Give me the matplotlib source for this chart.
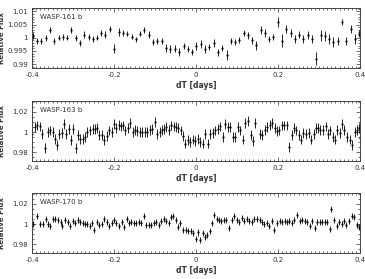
import matplotlib
matplotlib.use("Agg")
import matplotlib.pyplot as plt
from matplotlib.ticker import MultipleLocator

# ─────────────────────────────────────────────
# DATA
# ─────────────────────────────────────────────
t161 = [-0.398, -0.388, -0.378, -0.366, -0.356, -0.346, -0.335, -0.324, -0.314, -0.304,
        -0.293, -0.283, -0.272, -0.262, -0.252, -0.241, -0.231, -0.221, -0.210, -0.200,
        -0.189, -0.178, -0.168, -0.157, -0.147, -0.137, -0.126, -0.115, -0.105, -0.094,
        -0.084, -0.073, -0.063, -0.052, -0.041, -0.030, -0.020, -0.010, 0.001, 0.011,
        0.022, 0.032, 0.044, 0.054, 0.064, 0.075, 0.085, 0.096, 0.106, 0.116,
        0.127, 0.137, 0.147, 0.158, 0.168, 0.178, 0.189, 0.199, 0.210, 0.220,
        0.231, 0.241, 0.251, 0.262, 0.272, 0.283, 0.293, 0.304, 0.314, 0.324,
        0.335, 0.347, 0.356, 0.366, 0.377, 0.387, 0.398]
f161 = [1.0006, 0.9988, 0.9988, 1.0000, 1.0029, 0.9988, 1.0000, 1.0004, 1.0000, 1.0029,
        1.0000, 0.9980, 1.0012, 1.0004, 0.9994, 1.0000, 1.0019, 1.0012, 1.0034, 0.9959,
        1.0022, 1.0019, 1.0015, 1.0004, 0.9994, 1.0015, 1.0029, 1.0012, 0.9984, 0.9988,
        0.9988, 0.9962, 0.9956, 0.9959, 0.9946, 0.9969, 0.9956, 0.9946, 0.9969, 0.9975,
        0.9956, 0.9966, 0.9981, 0.9944, 0.9962, 0.9934, 0.9988, 0.9984, 0.9991, 1.0019,
        1.0009, 0.9990, 0.9971, 1.0031, 1.0019, 0.9994, 1.0004, 1.0059, 0.9988, 1.0034,
        1.0019, 0.9994, 1.0012, 0.9996, 1.0012, 0.9996, 0.9921, 1.0009, 1.0006, 0.9996,
        0.9984, 0.9988, 1.0059, 0.9988, 1.0034, 0.9996, 1.0016]
e161 = [0.0012, 0.0010, 0.0010, 0.0012, 0.0012, 0.0010, 0.0010, 0.0012, 0.0010, 0.0012,
        0.0012, 0.0010, 0.0012, 0.0012, 0.0012, 0.0010, 0.0012, 0.0012, 0.0012, 0.0018,
        0.0015, 0.0012, 0.0010, 0.0010, 0.0010, 0.0010, 0.0010, 0.0012, 0.0012, 0.0012,
        0.0012, 0.0015, 0.0015, 0.0015, 0.0015, 0.0012, 0.0012, 0.0012, 0.0015, 0.0015,
        0.0015, 0.0012, 0.0015, 0.0015, 0.0012, 0.0018, 0.0012, 0.0012, 0.0012, 0.0012,
        0.0012, 0.0012, 0.0018, 0.0015, 0.0015, 0.0012, 0.0012, 0.0018, 0.0025, 0.0015,
        0.0015, 0.0015, 0.0012, 0.0015, 0.0015, 0.0015, 0.0025, 0.0020, 0.0020, 0.0020,
        0.0020, 0.0015, 0.0012, 0.0015, 0.0015, 0.0018, 0.0015]

t163 = [-0.400, -0.393, -0.387, -0.380, -0.375, -0.369, -0.361, -0.355, -0.350, -0.344,
        -0.340, -0.334, -0.328, -0.321, -0.316, -0.309, -0.304, -0.299, -0.293, -0.287,
        -0.282, -0.276, -0.270, -0.265, -0.258, -0.252, -0.247, -0.242, -0.236, -0.230,
        -0.224, -0.217, -0.211, -0.205, -0.201, -0.195, -0.189, -0.183, -0.178, -0.172,
        -0.166, -0.160, -0.154, -0.149, -0.143, -0.137, -0.131, -0.125, -0.119, -0.113,
        -0.107, -0.101, -0.096, -0.089, -0.084, -0.078, -0.072, -0.066, -0.060, -0.053,
        -0.048, -0.043, -0.037, -0.031, -0.026, -0.020, -0.014, -0.008, -0.002, 0.004,
        0.010, 0.016, 0.022, 0.029, 0.034, 0.041, 0.047, 0.053, 0.059, 0.066,
        0.071, 0.078, 0.084, 0.090, 0.096, 0.102, 0.108, 0.115, 0.120, 0.127,
        0.133, 0.139, 0.145, 0.156, 0.161, 0.168, 0.174, 0.180, 0.186, 0.193,
        0.198, 0.203, 0.209, 0.215, 0.221, 0.227, 0.234, 0.239, 0.244, 0.250,
        0.257, 0.262, 0.269, 0.275, 0.281, 0.287, 0.293, 0.298, 0.303, 0.309,
        0.316, 0.321, 0.328, 0.334, 0.340, 0.345, 0.351, 0.357, 0.362, 0.369,
        0.375, 0.381, 0.387, 0.392, 0.398, 0.400]
f163 = [0.9980, 1.0048, 1.0065, 1.0055, 0.9980, 0.9840, 1.0000, 1.0016, 1.0000, 0.9935,
        0.9870, 0.9980, 0.9990, 1.0080, 0.9980, 1.0030, 0.9920, 1.0030, 0.9840, 0.9968,
        0.9935, 0.9935, 0.9950, 1.0000, 1.0016, 1.0030, 1.0030, 1.0040, 0.9968, 0.9968,
        0.9920, 0.9960, 1.0016, 1.0000, 1.0080, 1.0040, 1.0070, 1.0055, 1.0065, 1.0016,
        1.0040, 1.0087, 1.0000, 1.0023, 1.0010, 1.0000, 1.0000, 1.0000, 1.0000, 1.0023,
        1.0030, 1.0097, 0.9980, 1.0000, 1.0023, 1.0030, 1.0048, 1.0023, 1.0065, 1.0055,
        1.0048, 1.0040, 1.0016, 0.9960, 0.9887, 0.9920, 0.9900, 0.9926, 0.9913, 0.9935,
        0.9900, 0.9887, 0.9980, 0.9887, 0.9980, 0.9990, 1.0016, 1.0030, 1.0055, 0.9950,
        1.0080, 1.0048, 1.0048, 0.9950, 0.9950, 1.0048, 1.0016, 0.9926, 1.0087, 1.0110,
        0.9968, 0.9913, 1.0087, 0.9980, 0.9970, 1.0023, 1.0048, 1.0070, 1.0087, 1.0040,
        1.0010, 1.0016, 1.0065, 1.0065, 1.0065, 0.9855, 0.9968, 1.0040, 1.0016, 0.9968,
        0.9926, 0.9990, 0.9980, 0.9990, 0.9926, 0.9980, 1.0040, 1.0040, 1.0023, 1.0023,
        1.0055, 0.9980, 1.0016, 0.9950, 0.9926, 1.0023, 0.9990, 1.0080, 1.0023, 0.9950,
        0.9926, 0.9870, 1.0000, 1.0023, 1.0040, 0.9942]
e163 = 0.0048

t170 = [-0.398, -0.387, -0.380, -0.373, -0.367, -0.361, -0.355, -0.348, -0.343, -0.336,
        -0.330, -0.326, -0.320, -0.313, -0.308, -0.301, -0.295, -0.289, -0.283, -0.276,
        -0.271, -0.265, -0.258, -0.253, -0.248, -0.242, -0.237, -0.230, -0.224, -0.218,
        -0.212, -0.206, -0.200, -0.194, -0.188, -0.181, -0.175, -0.169, -0.163, -0.158,
        -0.152, -0.146, -0.140, -0.134, -0.128, -0.122, -0.115, -0.110, -0.103, -0.097,
        -0.091, -0.085, -0.079, -0.073, -0.066, -0.061, -0.056, -0.050, -0.043, -0.038,
        -0.032, -0.025, -0.020, -0.013, -0.007, -0.001, 0.005, 0.010, 0.016, 0.022,
        0.028, 0.034, 0.039, 0.045, 0.051, 0.056, 0.062, 0.069, 0.074, 0.081,
        0.087, 0.093, 0.100, 0.106, 0.112, 0.118, 0.124, 0.130, 0.136, 0.142,
        0.149, 0.155, 0.160, 0.167, 0.173, 0.179, 0.185, 0.191, 0.197, 0.204,
        0.209, 0.216, 0.222, 0.228, 0.234, 0.240, 0.247, 0.253, 0.259, 0.265,
        0.271, 0.277, 0.283, 0.290, 0.296, 0.302, 0.308, 0.314, 0.320, 0.326,
        0.330, 0.336, 0.343, 0.348, 0.355, 0.361, 0.367, 0.373, 0.380, 0.386,
        0.392, 0.398]
f170 = [1.0000, 1.0083, 1.0000, 1.0000, 1.0050, 1.0000, 0.9983, 1.0050, 1.0050, 1.0037,
        1.0017, 0.9977, 1.0037, 1.0017, 0.9983, 1.0027, 1.0010, 1.0037, 1.0017, 1.0010,
        1.0000, 1.0000, 0.9983, 1.0010, 0.9943, 1.0017, 0.9993, 1.0000, 1.0050, 1.0017,
        0.9977, 1.0010, 1.0037, 1.0010, 0.9983, 1.0017, 0.9967, 1.0050, 1.0010, 1.0017,
        1.0010, 1.0010, 1.0017, 1.0010, 1.0077, 0.9993, 0.9993, 0.9993, 1.0010, 1.0017,
        0.9993, 1.0027, 1.0050, 1.0027, 1.0010, 1.0070, 1.0083, 1.0043, 0.9967, 1.0010,
        0.9943, 0.9937, 0.9927, 0.9927, 0.9910, 0.9850, 0.9917, 0.9843, 0.9910, 0.9870,
        0.9893, 0.9927, 1.0010, 1.0093, 1.0050, 1.0037, 1.0027, 1.0037, 1.0043, 0.9960,
        1.0037, 1.0083, 1.0037, 1.0017, 1.0060, 1.0027, 1.0050, 1.0027, 1.0017, 1.0050,
        1.0050, 1.0037, 1.0017, 1.0000, 1.0010, 0.9983, 1.0027, 0.9943, 1.0010, 1.0027,
        1.0017, 1.0027, 1.0017, 1.0027, 1.0010, 1.0043, 1.0093, 1.0027, 1.0037, 1.0027,
        1.0017, 0.9977, 1.0027, 0.9960, 1.0017, 1.0017, 1.0017, 1.0017, 1.0017, 0.9950,
        1.0150, 1.0037, 0.9977, 1.0017, 1.0000, 1.0027, 0.9993, 1.0027, 1.0083, 1.0070,
        0.9993, 0.9970]
e170 = 0.0030

panels = [
    ("WASP-161 b", t161, f161, e161, (0.9885, 1.0113), [0.99, 0.995, 1.0, 1.005, 1.01],
     ["0.99", "0.995", "1", "1.005", "1.01"], 0.001),
    ("WASP-163 b", t163, f163, e163, (0.9715, 1.0305), [0.98, 1.0, 1.02],
     ["0.98", "1", "1.02"], 0.005),
    ("WASP-170 b", t170, f170, e170, (0.9715, 1.0305), [0.98, 1.0, 1.02],
     ["0.98", "1", "1.02"], 0.005),
]

xticks = [-0.4, -0.2, 0, 0.2, 0.4]
xticklabels = ["-0.4", "-0.2", "0", "0.2", "0.4"]

# ─────────────────────────────────────────────
# FIGURE
# ─────────────────────────────────────────────
fig = plt.figure(figsize=(3.65, 2.79), dpi=100)
W, H = 365.0, 279.0
boxes = [(32, 8, 360, 68), (32, 101, 360, 161), (32, 193, 360, 253)]  # px: left, top, right, bottom

for (name, t, f, e, ylim, yt, ytl, yminor), (l, tp, r, b) in zip(panels, boxes):
    ax = fig.add_axes([l / W, 1 - b / H, (r - l) / W, (b - tp) / H])
    ax.errorbar(t, f, yerr=e, fmt="o", ms=1.6, color="black",
                ecolor="black", elinewidth=0.6, capsize=0, mew=0)
    ax.set_xlim(-0.4, 0.4)
    ax.set_ylim(*ylim)
    ax.set_xticks(xticks)
    ax.set_xticklabels(xticklabels)
    ax.set_yticks(yt)
    ax.set_yticklabels(ytl)
    ax.xaxis.set_minor_locator(MultipleLocator(0.01))
    ax.yaxis.set_minor_locator(MultipleLocator(yminor))
    ax.tick_params(which="both", direction="in", top=True, right=True,
                   labelsize=5, width=0.5, colors="#333333", labelcolor="#333333", pad=3)
    ax.tick_params(which="major", length=3)
    ax.tick_params(which="minor", length=1.5)
    for s in ax.spines.values():
        s.set_linewidth(0.7)
        s.set_color("#444444")
    ax.text(0.025, 0.9, name, transform=ax.transAxes, fontsize=5,
            color="#333333", va="top", ha="left")
    ax.set_xlabel("dT [days]", fontsize=5.5, fontweight="bold", labelpad=2, color="#333333")
    ax.set_ylabel("Relative Flux", fontsize=5, fontweight="bold", labelpad=1, color="#333333")
    ax.yaxis.set_label_coords(-0.082, 0.5)

fig.savefig("out.png", dpi=100)
